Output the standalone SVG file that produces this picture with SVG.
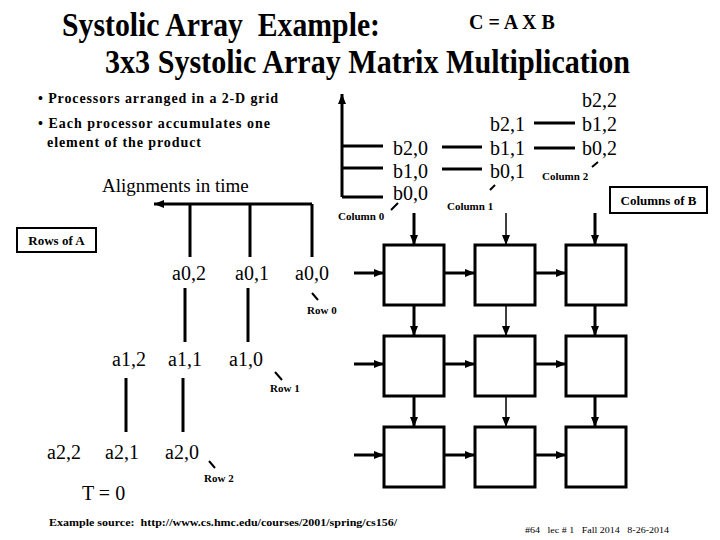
<svg xmlns="http://www.w3.org/2000/svg" width="720" height="540" viewBox="0 0 720 540">
<style>
text{font-family:"Liberation Serif","DejaVu Serif",serif;fill:#000}
.title{font-size:33px;font-weight:bold;white-space:pre}
.bul{font-size:14px;font-weight:bold}
.lab{font-size:20px}
.sm{font-size:11px;font-weight:bold}
.pre{white-space:pre}
.box{fill:#fff;stroke:#000;stroke-width:3}
.ln{stroke:#000;stroke-width:3;fill:none}
.arr{stroke:#000;stroke-width:3;fill:none;marker-end:url(#ah)}
.arrt{stroke:#000;stroke-width:1.5;fill:none;marker-end:url(#ah)}
.tick{stroke:#000;stroke-width:2}
</style>
<defs>
<marker id="ah" markerUnits="userSpaceOnUse" markerWidth="10" markerHeight="10" viewBox="0 0 10 10" refX="10" refY="5" orient="auto">
<path d="M0,1 L10,5 L0,9 Z" fill="#000"/>
</marker>
</defs>
<rect width="720" height="540" fill="#fff"/>
<g id="title">
<text class="title" x="62" y="36" textLength="318" lengthAdjust="spacingAndGlyphs">Systolic Array  Example:</text>
<text x="469" y="29" style="font-size:20px;font-weight:bold">C = A X B</text>
<text class="title" x="105" y="73" textLength="525" lengthAdjust="spacingAndGlyphs">3x3 Systolic Array Matrix Multiplication</text>
</g>
<g id="bullets">
<text class="bul" x="38" y="103" textLength="240">• Processors arranged in a 2-D grid</text>
<text class="bul" x="38" y="128" textLength="232">• Each processor accumulates one</text>
<text class="bul" x="47" y="147" textLength="154">element of the product</text>
</g>
<text id="alignments" class="lab" x="102" y="192" style="font-size:19px">Alignments in time</text>
<g id="connectors">
<path class="arr" d="M312,204 L154,204"/>
<path class="ln" d="M190,204 V257 M250,204 V257 M312,204 V257"/>
<path class="ln" d="M185,288 V342 M248,288 V342"/>
<path class="ln" d="M126,378 V432 M183,378 V432"/>
<path class="arr" d="M342,197 V94"/>
<path class="ln" d="M342,146 H383 M342,168 H383 M342,197 H383"/>
<path class="ln" d="M442,147 H482 M442,169 H482 M534,123 H575 M534,148 H575"/>
<path class="tick" d="M391,210 L398,203 M490,190 L495,185 M592,167 L598,162"/>
<path class="tick" d="M312,293 L318,300 M275,372 L282,380 M209,461 L215,468"/>
<path class="arr" d="M414,213 V245"/>
<path class="arrt" d="M506,213 V245"/>
<path class="arr" d="M595,213 V245"/>
<path class="arr" d="M414,305 V336"/>
<path class="arrt" d="M506,305 V336"/>
<path class="arr" d="M595,305 V336"/>
<path class="arr" d="M414,396 V427"/>
<path class="arrt" d="M506,396 V427"/>
<path class="arr" d="M595,396 V427"/>
<path class="arr" d="M354,273 H384"/>
<path class="arr" d="M444,273 H475"/>
<path class="arr" d="M535,273 H566"/>
<path class="arr" d="M354,364 H384"/>
<path class="arr" d="M444,364 H475"/>
<path class="arr" d="M535,364 H566"/>
<path class="arr" d="M354,455 H384"/>
<path class="arr" d="M444,455 H475"/>
<path class="arr" d="M535,455 H566"/>
</g>
<g id="pe00"><rect class="box" x="384" y="245" width="60" height="60"/></g>
<g id="pe01"><rect class="box" x="475" y="245" width="60" height="60"/></g>
<g id="pe02"><rect class="box" x="566" y="245" width="60" height="60"/></g>
<g id="pe10"><rect class="box" x="384" y="336" width="60" height="60"/></g>
<g id="pe11"><rect class="box" x="475" y="336" width="60" height="60"/></g>
<g id="pe12"><rect class="box" x="566" y="336" width="60" height="60"/></g>
<g id="pe20"><rect class="box" x="384" y="427" width="60" height="60"/></g>
<g id="pe21"><rect class="box" x="475" y="427" width="60" height="60"/></g>
<g id="pe22"><rect class="box" x="566" y="427" width="60" height="60"/></g>
<g id="b-labels">
<text class="lab" x="393" y="155">b2,0</text>
<text class="lab" x="393" y="178">b1,0</text>
<text class="lab" x="393" y="200">b0,0</text>
<text class="lab" x="490" y="131">b2,1</text>
<text class="lab" x="490" y="155">b1,1</text>
<text class="lab" x="490" y="178">b0,1</text>
<text class="lab" x="582" y="107">b2,2</text>
<text class="lab" x="582" y="131">b1,2</text>
<text class="lab" x="582" y="155">b0,2</text>
<text class="sm" x="338" y="220">Column 0</text>
<text class="sm" x="447" y="210">Column 1</text>
<text class="sm" x="542" y="180">Column 2</text>
</g>
<g id="columns-of-b">
<rect x="610" y="187" width="97" height="26" fill="none" stroke="#000" stroke-width="2"/>
<text x="658.5" y="205" text-anchor="middle" style="font-size:13px;font-weight:bold">Columns of B</text>
</g>
<g id="rows-of-a">
<rect x="17" y="228" width="79" height="24" fill="none" stroke="#000" stroke-width="2"/>
<text x="56.5" y="245" text-anchor="middle" style="font-size:13px;font-weight:bold">Rows of A</text>
</g>
<g id="a-labels">
<text class="lab" x="172" y="280">a0,2</text>
<text class="lab" x="235" y="280">a0,1</text>
<text class="lab" x="295" y="280">a0,0</text>
<text class="lab" x="112" y="366">a1,2</text>
<text class="lab" x="168" y="366">a1,1</text>
<text class="lab" x="229" y="366">a1,0</text>
<text class="lab" x="47" y="459">a2,2</text>
<text class="lab" x="105" y="459">a2,1</text>
<text class="lab" x="165" y="459">a2,0</text>
<text class="sm" x="307" y="314">Row 0</text>
<text class="sm" x="270" y="392">Row 1</text>
<text class="sm" x="204" y="482">Row 2</text>
<text class="lab" x="82" y="500">T = 0</text>
</g>
<g id="footer">
<text class="sm pre" x="49" y="526" textLength="348" lengthAdjust="spacingAndGlyphs">Example source:  http://www.cs.hmc.edu/courses/2001/spring/cs156/</text>
<text class="pre" x="525" y="533" style="font-size:9px" textLength="144" lengthAdjust="spacingAndGlyphs">#64   lec # 1   Fall 2014   8-26-2014</text>
</g>
</svg>
